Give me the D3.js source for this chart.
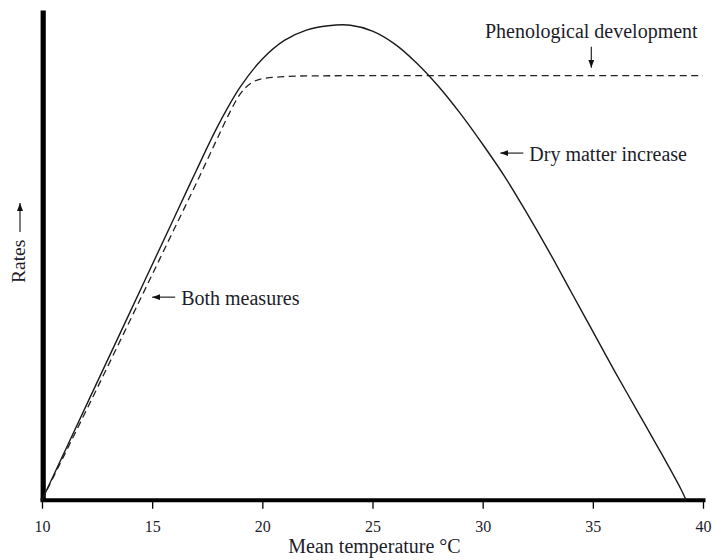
<!DOCTYPE html>
<html>
<head>
<meta charset="utf-8">
<script src="https://cdn.jsdelivr.net/npm/d3@7"></script>
<style>
  body { margin: 0; background: #fff; }
  svg { display: block; }
  text { font-family: "Liberation Serif", "DejaVu Serif", serif; fill: #1d1d2b; }
</style>
</head>
<body>
<svg id="chart" width="712" height="560"></svg>
<script>
// Values (rates in arbitrary units 0-100)
const xTicks = [10, 15, 20, 25, 30, 35, 40]

const dryTemps = [10, 12, 14, 16, 17, 18, 19, 20, 21, 22, 23, 24, 25, 26, 27, 28, 29, 30,
  31, 32, 33, 34, 35, 36, 37, 38, 39, 39.23]
const dryRates = [0, 19.2, 38.4, 57.6, 67.2, 76.5, 84.3, 90.0, 93.8, 95.9, 96.8, 96.9, 95.7, 93.1, 89.2, 84.4, 78.8, 72.6,
  66.0, 58.6, 50.8, 42.6, 34.4, 26.2, 18.3, 10.4, 2.2, 0]

const phenoTemps = [10, 12, 14, 16, 17, 18, 18.5, 19, 19.5, 20, 21, 22, 25, 30, 35, 40]
const phenoRates = [0, 18.2, 36.7, 55.3, 64.6, 74.2, 78.9, 82.9, 85.1, 86.0, 86.4, 86.55, 86.6, 86.6, 86.6, 86.6]

// Annotation arrows: tip in data units, direction
const notes = [
  {label: "Both measures", temp: 15, rate: 41.4, dir: "left"},
  {label: "Dry matter increase", temp: 30.8, rate: 70.8, dir: "left"},
  {label: "Phenological development", temp: 34.93, rate: 88.2, dir: "down"}
]

const svg = d3.select("#chart")

const x = d3.scaleLinear().domain([10, 40]).range([42, 703])
const y = d3.scaleLinear().domain([0, 100]).range([500, 10])

// arrowhead
svg.append("defs").append("marker")
  .attr("id", "head")
  .attr("markerUnits", "userSpaceOnUse")
  .attr("viewBox", "0 0 8 6")
  .attr("refX", 8).attr("refY", 3)
  .attr("markerWidth", 8).attr("markerHeight", 6)
  .attr("orient", "auto")
  .append("path")
  .attr("d", "M0,0L8,3L0,6Z")
  .attr("fill", "#111")

// x axis
const xAxis = svg.append("g")
  .attr("transform", "translate(0,499.7)")
  .call(d3.axisBottom(x).tickValues(xTicks).tickSize(9).tickSizeOuter(0).tickFormat(d3.format("d")))
xAxis.select(".domain")
  .attr("stroke", "#000").attr("stroke-width", 4).attr("stroke-linecap", "square")
xAxis.selectAll(".tick line").attr("stroke", "#000").attr("stroke-width", 1.3)
xAxis.selectAll(".tick text")
  .attr("y", 32).attr("dy", 0)
  .style("font-size", "16px")
  .style("font-family", "Liberation Serif, serif")
  .attr("fill", "#1d1d2b")

// y axis: thick bar only
const yAxis = svg.append("g")
  .attr("transform", "translate(42.7,0)")
  .call(d3.axisLeft(y).tickValues([]).tickSizeOuter(0))
yAxis.select(".domain").attr("stroke", "#000").attr("stroke-width", 5.2)

// curves
const line = d3.line()
  .x(d => x(d[0]))
  .y(d => y(d[1]))

svg.append("path")
  .datum(d3.zip(phenoTemps, phenoRates))
  .attr("d", line.curve(d3.curveMonotoneX))
  .attr("fill", "none")
  .attr("stroke", "#222")
  .attr("stroke-width", 1.3)
  .attr("stroke-dasharray", "7,4.5")

svg.append("path")
  .datum(d3.zip(dryTemps, dryRates))
  .attr("d", line.curve(d3.curveCatmullRom.alpha(0.5)))
  .attr("fill", "none")
  .attr("stroke", "#1a1a1a")
  .attr("stroke-width", 1.4)

// annotations
for (const n of notes) {
  const tx = x(n.temp)
  const ty = y(n.rate)
  if (n.dir === "left") {
    svg.append("line")
      .attr("x1", tx + 23).attr("y1", ty).attr("x2", tx).attr("y2", ty)
      .attr("stroke", "#111").attr("stroke-width", 1.1)
      .attr("marker-end", "url(#head)")
    svg.append("text")
      .attr("x", tx + 29).attr("y", ty + 7.5)
      .style("font-size", "20px")
      .text(n.label)
  } else {
    svg.append("line")
      .attr("x1", tx).attr("y1", ty - 21).attr("x2", tx).attr("y2", ty)
      .attr("stroke", "#111").attr("stroke-width", 1.1)
      .attr("marker-end", "url(#head)")
    svg.append("text")
      .attr("x", tx).attr("y", ty - 30)
      .attr("text-anchor", "middle")
      .style("font-size", "20px")
      .text(n.label)
  }
}

// axis titles
svg.append("text")
  .attr("x", x(25) + 2).attr("y", 553)
  .attr("text-anchor", "middle")
  .style("font-size", "20px")
  .text("Mean temperature °C")

svg.append("text")
  .attr("transform", "translate(25,283) rotate(-90)")
  .style("font-size", "19.5px")
  .text("Rates")

svg.append("line")
  .attr("x1", 20).attr("y1", 232).attr("x2", 20).attr("y2", 203)
  .attr("stroke", "#111").attr("stroke-width", 1.1)
  .attr("marker-end", "url(#head)")
</script>
</body>
</html>
